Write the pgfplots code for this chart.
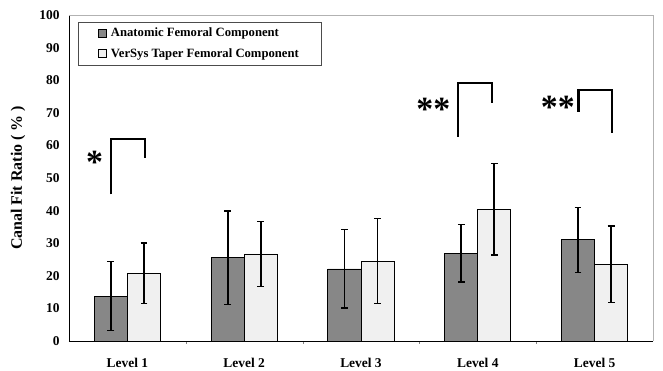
\documentclass[border=0pt]{standalone}
\usepackage{pgfplots}
\pgfplotsset{compat=1.18}
\usepackage{pgfplotstable}
\usepackage{fontspec}
\setmainfont{Liberation Serif}
\definecolor{darkbar}{RGB}{135,135,135}
\definecolor{lightbar}{RGB}{240,240,240}
\pgfplotstableread{
x y e
1 13.8 10.6
2 25.5 14.4
3 22.1 12.0
4 26.9 8.8
5 31.0 10.0
}\anatomic
\pgfplotstableread{
x y e
1 20.8 9.3
2 26.7 10.0
3 24.5 13.1
4 40.4 14.0
5 23.6 11.7
}\versys
\begin{document}
\begin{tikzpicture}
\begin{axis}[
  at={(0,0)}, anchor=south west,
  scale only axis,
  width=584bp, height=326bp,
  xmin=0.5, xmax=5.5, ymin=0, ymax=100,
  ybar=0pt, bar width=0.283,
  xtick={1,2,3,4,5},
  xticklabels={Level 1,Level 2,Level 3,Level 4,Level 5},
  minor xtick={1.5,2.5,3.5,4.5},
  major x tick style={draw=none},
  minor tick length=3pt,
  ytick={0,10,...,100},
  major y tick style={draw=none},
  axis x line*=bottom, axis y line*=left,
  axis line style={black, line width=0.8pt, -},
  tick label style={font=\bfseries\fontsize{13.5}{15}\selectfont},
  /pgf/number format/assume math mode=true,
  yticklabel style={xshift=-6bp},
  xticklabel style={yshift=-9bp},
  ylabel={Canal Fit Ratio ( \% )},
  ylabel style={font=\bfseries\fontsize{16}{18}\selectfont,
    at={(axis description cs:-0.0873,0.5)}, anchor=center},
  legend style={at={(0.0154,0.9785)}, anchor=north west, draw=black!70,
    font=\bfseries\fontsize{12.7}{14}\selectfont, row sep=6bp,
    inner xsep=20bp, inner ysep=4bp, legend cell align=left},
  legend image code/.code={\draw[#1, line width=0.7pt] (0bp,-3.8bp) rectangle (7.5bp,3.8bp); \path (10bp,0bp);},
  clip=false,
]
\addplot[fill=darkbar, draw=black, line width=0.9pt,
  error bars/.cd, y dir=both, y explicit,
  error bar style={line width=1.7pt, black},
  error mark options={rotate=90, mark size=3.4pt, line width=1.3pt, black}]
  table[x=x, y=y, y error=e] {\anatomic};
\addlegendentry{Anatomic Femoral Component}
\addplot[fill=lightbar, draw=black, line width=0.9pt,
  error bars/.cd, y dir=both, y explicit,
  error bar style={line width=1.7pt, black},
  error mark options={rotate=90, mark size=3.4pt, line width=1.3pt, black}]
  table[x=x, y=y, y error=e] {\versys};
\addlegendentry{VerSys Taper Femoral Component}
% significance brackets
\addplot[sharp plot, no marks, black, line width=2.6pt, forget plot]
  coordinates {(0.86,45) (0.86,62) (1.15,62) (1.15,56)};
\addplot[sharp plot, no marks, black, line width=2.6pt, forget plot]
  coordinates {(3.83,62.7) (3.83,79.2) (4.12,79.2) (4.12,72.9)};
\addplot[sharp plot, no marks, black, line width=2.6pt, forget plot]
  coordinates {(4.86,70.3) (4.86,77) (5.15,77) (5.15,63.7)};
\node[font=\bfseries\fontsize{34}{34}\selectfont, anchor=base, inner sep=0pt] at (axis cs:0.72,51.4) {*};
\node[font=\bfseries\fontsize{34}{34}\selectfont, anchor=base, inner sep=0pt] at (axis cs:3.62,67.5) {**};
\node[font=\bfseries\fontsize{34}{34}\selectfont, anchor=base, inner sep=0pt] at (axis cs:4.685,68.1) {**};
\draw[gray!60, line width=0.6pt] (rel axis cs:0,1) -- (rel axis cs:1,1) -- (rel axis cs:1,0);
\end{axis}
\pgfresetboundingbox
\path (-69bp,-30bp) rectangle (594bp,341bp);
\end{tikzpicture}
\end{document}
